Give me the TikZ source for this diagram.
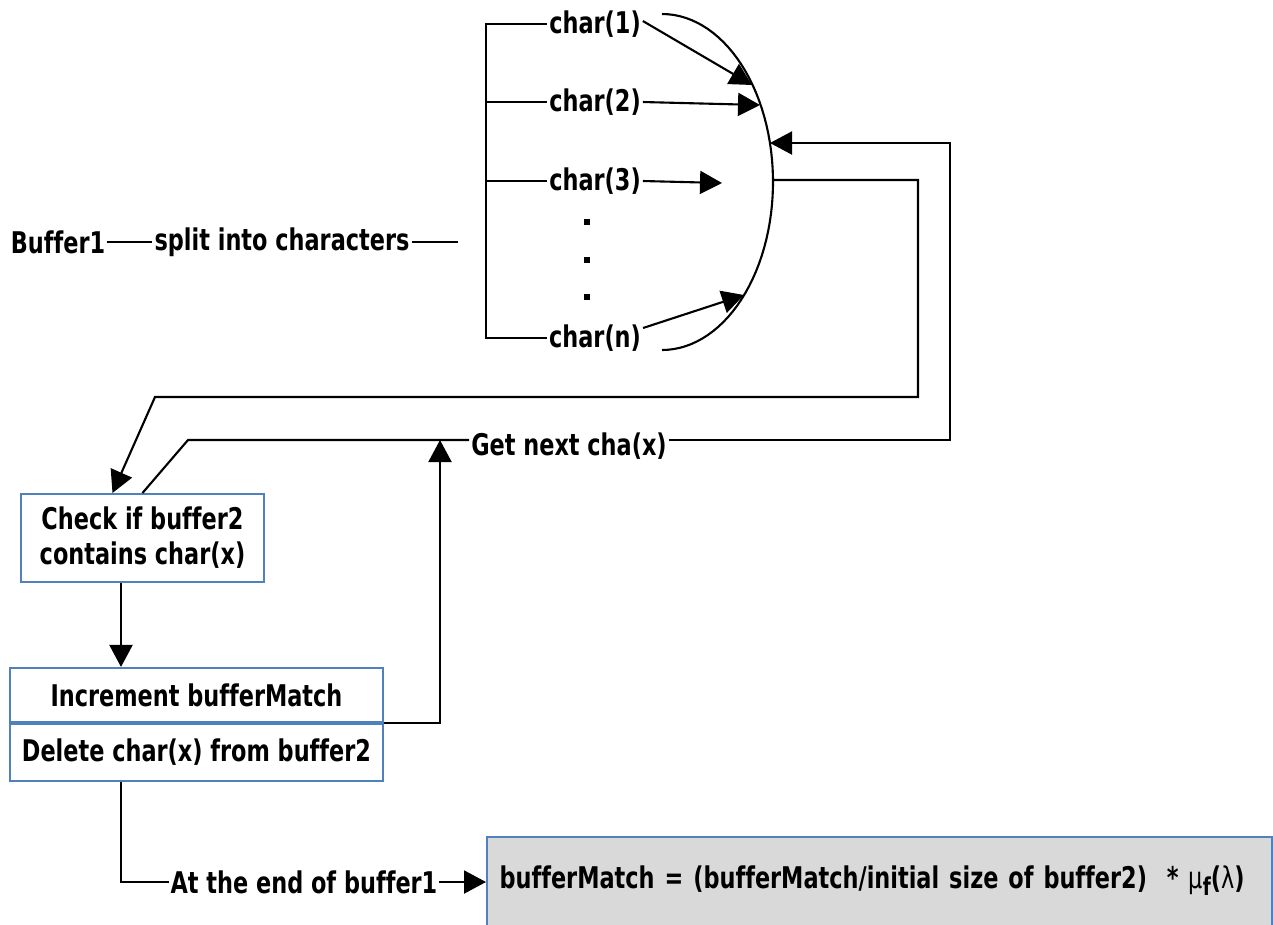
\documentclass[tikz,border=0pt]{standalone}
\usepackage{fontspec}
\setmainfont{DejaVu Sans}[FakeStretch=0.75, Ligatures=NoCommon]
\usetikzlibrary{arrows.meta, positioning, calc}
\definecolor{boxblue}{RGB}{79, 129, 189}
\definecolor{resgray}{RGB}{217, 217, 217}
\tikzset{
  lbl/.style={font=\fontsize{17}{20}\selectfont\bfseries, inner sep=1pt},
  conn/.style={line width=1.2pt},
  arr/.style={conn, -{Triangle[length=0.44cm,width=0.46cm]}},
  bluebox/.style={lbl, draw=boxblue, line width=1.2pt, fill=white, align=center}
}

\begin{document}
\begin{tikzpicture}[x=0.02cm, y=-0.02cm]
        \useasboundingbox (0,0) rectangle (1273,924);

        % Buffer1 split into characters
        \node[lbl] (buf) at (58,242) {Buffer1};
        \node[lbl] (split) at (282,242) {split into characters};
        \coordinate (splitend) at (458,242);
        \draw[conn] (buf) -- (split);
        \draw[conn] (split) -- (splitend);

        % Characters
        \node[lbl] (c1) at (595,24) {char(1)};
        \node[lbl] (c2) at (595,102) {char(2)};
        \node[lbl] (c3) at (595,181) {char(3)};
        \node[lbl] (cn) at (595,338) {char(n)};
        \foreach \y in {219,257,294}{
          \fill (584,\y) rectangle +(6,6);
        }

        % Bracket
        \coordinate (brx) at (486,0);
        \draw[conn] (c1.west) -- (c1.west -| brx) |- (cn.west);
        \draw[conn] (c2.west -| brx) -- (c2.west);
        \draw[conn] (c3.west -| brx) -- (c3.west);

        % Join arc
        \draw[conn] plot[domain=90:-90, samples=60] ({662+111*cos(\x)},{182-168*sin(\x)});
        \coordinate (a1) at (752,85);
        \coordinate (a2) at (760,105);
        \coordinate (a3) at (722,183);
        \coordinate (an) at (744,295);
        \coordinate (joinout) at (773,180);
        \coordinate (joinin) at (770,143);
        \draw[arr] ([yshift=0.06cm]c1.east) -- (a1);
        \draw[arr] (c2.east) -- (a2);
        \draw[arr] (c3.east) -- (a3);
        \draw[arr] ([yshift=0.2cm]cn.east) -- (an);

        % Check box
        \node[bluebox, minimum width=4.86cm, minimum height=1.76cm] (chk) at (142.5,538) {Check if buffer2\\contains char(x)};
        \draw[arr] (joinout) -- (918,180) -- (918,397) -- (155,397) -- ([xshift=-0.6cm]chk.north);

        % Get next
        \node[lbl] (gnext) at (569,446) {Get next cha(x)};
        \coordinate (gr) at (950,440);
        \coordinate (gl) at (188,440);
        \draw[arr] (gnext.east |- gr) -- (gr) -- (gr |- joinin) -- (joinin);
        \draw[conn] (gnext.west |- gl) -- (gl) -- (chk.north);

        % Increment / delete
        \node[bluebox, minimum width=7.46cm, minimum height=1.08cm] (inc) at (196.5,695) {Increment bufferMatch};
        \node[bluebox, minimum width=7.46cm, minimum height=1.14cm, anchor=north] (del) at (inc.south) {Delete char(x) from buffer2};
        \coordinate (lx) at (121,0);
        \coordinate (up) at (440,440);
        \draw[arr] (chk.south -| lx) -- (inc.north -| lx);
        \draw[arr] (inc.south east) -| (up);

        % Result
        \node[lbl] (atend) at (304,882) {At the end of buffer1};
        \node[lbl, draw=boxblue, line width=1.2pt, fill=resgray, anchor=north west, minimum width=15.7cm, minimum height=1.9cm, text width=15.2cm, text depth=0.3cm, align=left] (res) at (486,836)
          {bufferMatch = (bufferMatch/initial size of buffer2)\ \ * {\mdseries μ}\raisebox{-0.45ex}{\fontsize{14}{14}\selectfont f}({\mdseries λ})};
        \draw[conn] (del.south -| lx) |- (atend.west);
        \draw[arr] (atend.east) -- (res.west |- atend.east);
\end{tikzpicture}
\end{document}
